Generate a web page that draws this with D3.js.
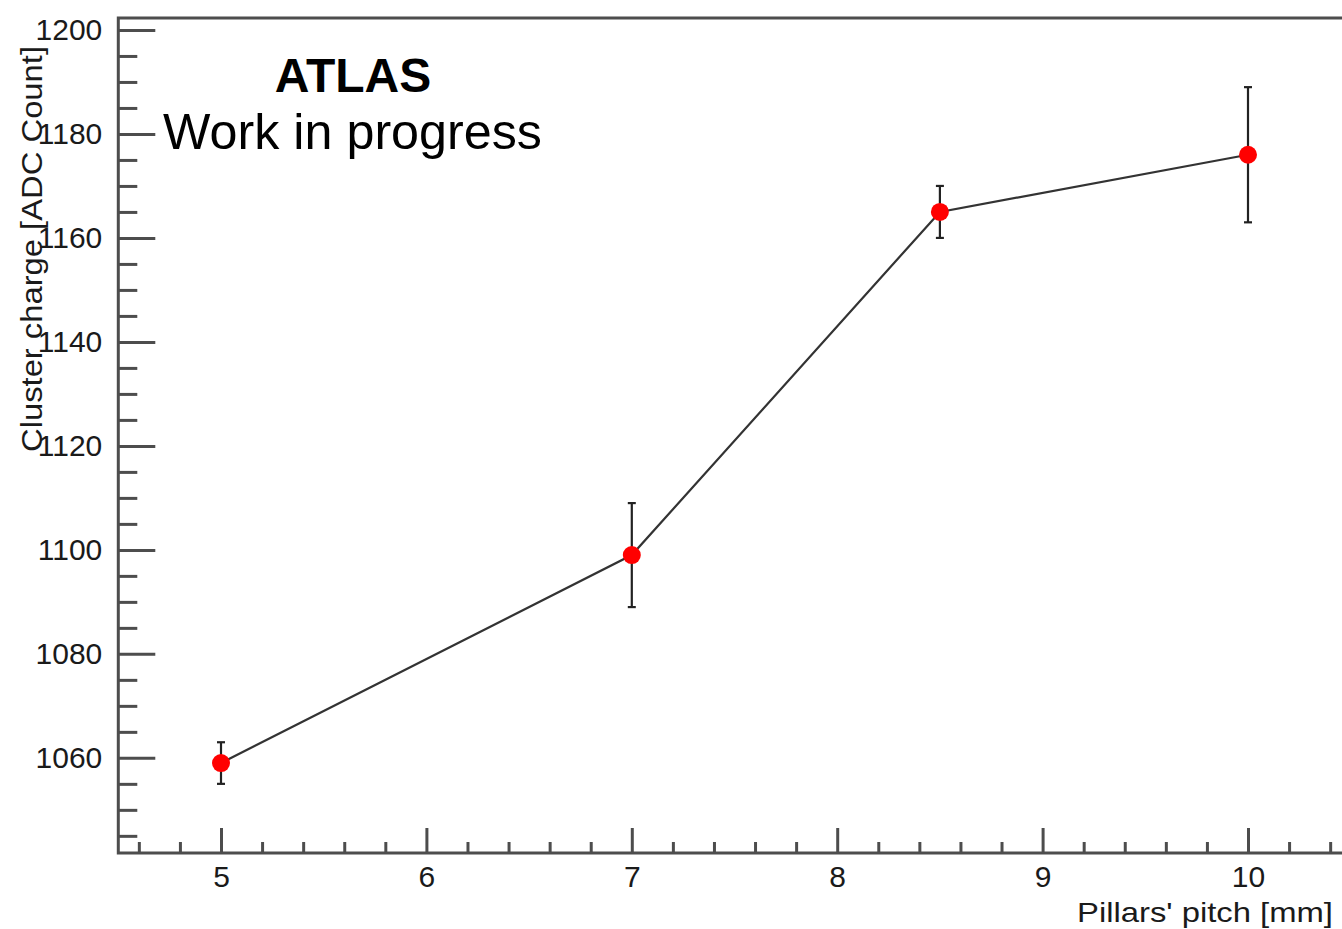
<!DOCTYPE html>
<html>
<head>
  <script src="https://d3js.org/d3.v7.min.js"></script>
  <style>
    body { margin: 0; background: #fff; }
    svg { font-family: "Liberation Sans", Arial, Helvetica, sans-serif; }
    .frame { fill: none; stroke: #4d4d4d; stroke-width: 3; }
    .axis path { display: none; }
    .axis line { stroke: #4d4d4d; stroke-width: 3; }
    .axis text { fill: #1a1a1a; font-size: 30px; }
    .curve { fill: none; stroke: #333; stroke-width: 2.2; }
    .err { stroke: #222; stroke-width: 2.2; }
    .pt { fill: #ff0000; }
  </style>
</head>
<body>
  <svg width="1342" height="929"></svg>
  <script>
    // pillar pitch [mm] vs cluster charge [ADC count]
    var pitch = [5, 7, 8.5, 10];
    var charge = [1059, 1099, 1165, 1176];
    var chargeErr = [4, 10, 5, 13];

    var yMajor = [1060, 1080, 1100, 1120, 1140, 1160, 1180, 1200];
    var xMajor = [5, 6, 7, 8, 9, 10];

    var svg = d3.select("svg");

    var x = d3.scaleLinear().domain([4.5, 10.5]).range([118.3, 1350.7]);
    var y = d3.scaleLinear().domain([1041.7, 1202.3]).range([853, 18]);

    var yMinor = d3.range(1045, 1201, 5).filter(function(v) { return yMajor.indexOf(v) < 0; });
    var xMinor = d3.range(46, 105, 2).map(function(v) { return v / 10; })
      .filter(function(v) { return xMajor.indexOf(v) < 0; });

    // minor ticks
    svg.append("g")
      .attr("class", "axis")
      .attr("transform", "translate(" + x.range()[0] + ",0)")
      .call(d3.axisLeft(y).tickValues(yMinor).tickSize(-19).tickFormat(""));

    svg.append("g")
      .attr("class", "axis")
      .attr("transform", "translate(0," + y.range()[0] + ")")
      .call(d3.axisBottom(x).tickValues(xMinor).tickSize(-11).tickFormat(""));

    // major ticks + labels
    svg.append("g")
      .attr("class", "axis")
      .attr("transform", "translate(" + x.range()[0] + ",0)")
      .call(d3.axisLeft(y).tickValues(yMajor).tickSizeInner(-37).tickSizeOuter(0).tickPadding(16)
        .tickFormat(d3.format("d")));

    svg.append("g")
      .attr("class", "axis")
      .attr("transform", "translate(0," + y.range()[0] + ")")
      .call(d3.axisBottom(x).tickValues(xMajor).tickSizeInner(-25).tickSizeOuter(0).tickPadding(13)
        .tickFormat(d3.format("d")));

    // frame
    svg.append("rect")
      .attr("class", "frame")
      .attr("x", x.range()[0])
      .attr("y", y.range()[1])
      .attr("width", x.range()[1] - x.range()[0])
      .attr("height", y.range()[0] - y.range()[1]);

    // axis titles
    svg.append("text")
      .attr("x", 1333)
      .attr("y", 922)
      .attr("text-anchor", "end")
      .attr("font-size", 28)
      .attr("fill", "#1a1a1a")
      .attr("textLength", 256)
      .attr("lengthAdjust", "spacingAndGlyphs")
      .text("Pillars' pitch [mm]");

    svg.append("text")
      .attr("transform", "translate(42,452) rotate(-90)")
      .attr("font-size", 29)
      .attr("fill", "#1a1a1a")
      .attr("textLength", 406)
      .attr("lengthAdjust", "spacingAndGlyphs")
      .text("Cluster charge [ADC Count]");

    // data
    var line = d3.line()
      .x(function(d, i) { return x(pitch[i]); })
      .y(function(d) { return y(d); });

    svg.append("path")
      .datum(charge)
      .attr("class", "curve")
      .attr("d", line);

    var err = svg.append("g").selectAll("g")
      .data(charge)
      .enter().append("g")
      .attr("class", "err");

    err.append("line")
      .attr("x1", function(d, i) { return x(pitch[i]); })
      .attr("x2", function(d, i) { return x(pitch[i]); })
      .attr("y1", function(d, i) { return y(d - chargeErr[i]); })
      .attr("y2", function(d, i) { return y(d + chargeErr[i]); });

    err.append("line")
      .attr("x1", function(d, i) { return x(pitch[i]) - 4; })
      .attr("x2", function(d, i) { return x(pitch[i]) + 4; })
      .attr("y1", function(d, i) { return y(d + chargeErr[i]); })
      .attr("y2", function(d, i) { return y(d + chargeErr[i]); });

    err.append("line")
      .attr("x1", function(d, i) { return x(pitch[i]) - 4; })
      .attr("x2", function(d, i) { return x(pitch[i]) + 4; })
      .attr("y1", function(d, i) { return y(d - chargeErr[i]); })
      .attr("y2", function(d, i) { return y(d - chargeErr[i]); });

    svg.append("g").selectAll("circle")
      .data(charge)
      .enter().append("circle")
      .attr("class", "pt")
      .attr("cx", function(d, i) { return x(pitch[i]); })
      .attr("cy", function(d) { return y(d); })
      .attr("r", 9);

    // labels
    svg.append("text")
      .attr("x", 353)
      .attr("y", 92)
      .attr("text-anchor", "middle")
      .attr("font-size", 48)
      .attr("font-weight", "bold")
      .text("ATLAS");

    svg.append("text")
      .attr("x", 163)
      .attr("y", 149)
      .attr("font-size", 50)
      .attr("textLength", 379)
      .attr("lengthAdjust", "spacingAndGlyphs")
      .text("Work in progress");
  </script>
</body>
</html>
